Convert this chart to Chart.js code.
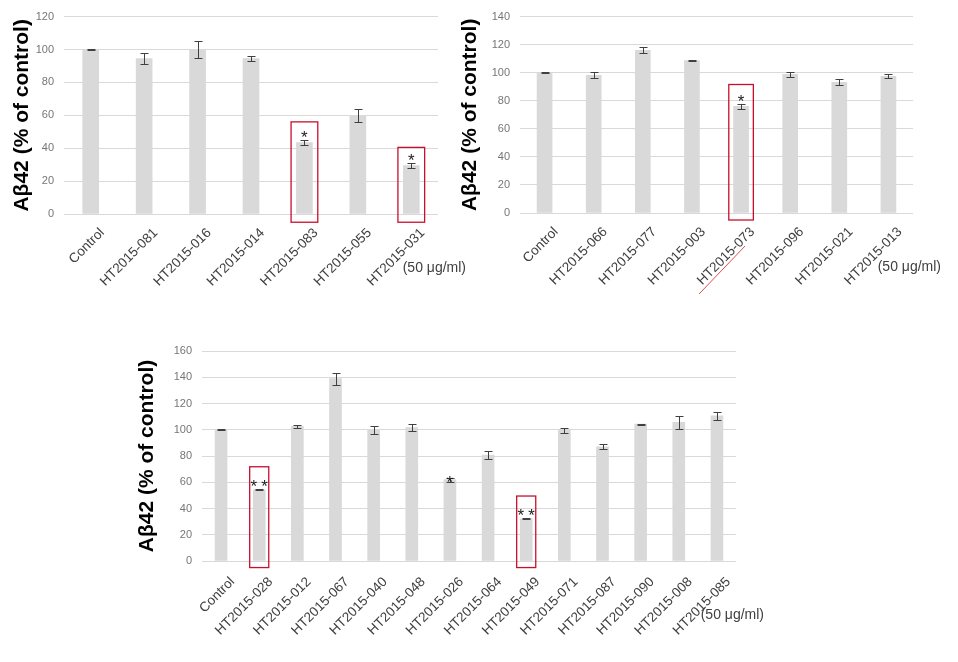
<!DOCTYPE html>
<html>
<head>
<meta charset="utf-8">
<script src="https://cdn.jsdelivr.net/npm/chart.js@4.4.0/dist/chart.umd.min.js"></script>
<style>
  body { margin: 0; background: #fff; width: 958px; height: 662px; position: relative; overflow: hidden; }
  canvas { position: absolute; }
</style>
</head>
<body>
<canvas id="c1" width="480" height="300" style="left:0;top:0"></canvas>
<canvas id="c2" width="510" height="300" style="left:448px;top:0"></canvas>
<canvas id="c3" width="833" height="332" style="left:125px;top:330px"></canvas>
<script>
// chart 1
const labels1 = ['Control', 'HT2015-081', 'HT2015-016', 'HT2015-014', 'HT2015-083', 'HT2015-055', 'HT2015-031'];
const means1 = [100, 94.5, 100, 94.5, 43.4, 60, 29.5];
const errs1 = [0.2, 3.3, 5.2, 1.5, 1.4, 3.9, 1.4];
const stars1 = ['', '', '', '', '*', '', '*'];
const boxIdx1 = [4, 6];
const boxTop1 = [56, 40.5];
const yMax1 = 120;

// chart 2
const labels2 = ['Control', 'HT2015-066', 'HT2015-077', 'HT2015-003', 'HT2015-073', 'HT2015-096', 'HT2015-021', 'HT2015-013'];
const means2 = [100, 98.2, 116, 108.6, 76, 98.8, 93.2, 97.5];
const errs2 = [0.2, 2.3, 2.1, 0.3, 1.7, 1.8, 2, 1.4];
const stars2 = ['', '', '', '', '*', '', '', ''];
const boxIdx2 = [4];
const boxTop2 = [91.6];
const yMax2 = 140;

// chart 3
const labels3 = ['Control', 'HT2015-028', 'HT2015-012', 'HT2015-067', 'HT2015-040', 'HT2015-048', 'HT2015-026',
  'HT2015-064', 'HT2015-049', 'HT2015-071', 'HT2015-087', 'HT2015-090', 'HT2015-008', 'HT2015-085'];
const means3 = [100, 54.3, 102.7, 139, 99.8, 101.7, 62, 80.7, 32.2, 99.7, 87, 104.3, 105.7, 110.6];
const errs3 = [0.2, 0.4, 1, 4.6, 3.2, 2.8, 1.5, 2.8, 0.3, 2, 2, 0.4, 5, 3.3];
const stars3 = ['', '**', '', '', '', '', '*', '', '**', '', '', '', '', ''];
const boxIdx3 = [1, 8];
const boxTop3 = [71.8, 49.5];
const yMax3 = 160;

const unitText = '(50 μg/ml)';
const yTitle = 'Aβ42 (% of control)';
const FONT = "'Liberation Sans', Arial, sans-serif";

function marks(means, errs, stars, boxIdx, boxTop, opts) {
  return {
    id: 'marks',
    afterDatasetsDraw(chart) {
      const ctx = chart.ctx, xs = chart.scales.x, ys = chart.scales.y, area = chart.chartArea;
      ctx.save();
      // error bars
      ctx.strokeStyle = '#404040';
      ctx.lineWidth = 1;
      means.forEach((m, i) => {
        const px = Math.round(xs.getPixelForValue(i)) + 0.5;
        const t = Math.round(ys.getPixelForValue(m + errs[i])) + 0.5;
        const b = Math.round(ys.getPixelForValue(m - errs[i])) + 0.5;
        ctx.beginPath();
        ctx.moveTo(px, t); ctx.lineTo(px, b);
        ctx.moveTo(px - 4, t); ctx.lineTo(px + 4, t);
        ctx.moveTo(px - 4, b); ctx.lineTo(px + 4, b);
        ctx.stroke();
      });
      // significance marks
      ctx.fillStyle = '#222';
      ctx.textAlign = 'center';
      ctx.textBaseline = 'alphabetic';
      stars.forEach((s, i) => {
        if (!s) return;
        ctx.font = '17px ' + FONT;
        ctx.letterSpacing = s.length > 1 ? '4px' : '0px';
        const mt = ctx.measureText(s);
        const gap = (opts.overlap || []).includes(i) ? -1 : 6;
        const cy = ys.getPixelForValue(means[i] + errs[i]) - gap;
        const base = cy - (mt.actualBoundingBoxDescent - mt.actualBoundingBoxAscent) / 2;
        const shift = s.length > 1 ? 2 : 0;
        ctx.fillText(s, xs.getPixelForValue(i) + shift, base);
      });
      ctx.letterSpacing = '0px';
      // highlight boxes
      ctx.strokeStyle = '#c8102e';
      ctx.lineWidth = 1.3;
      boxIdx.forEach((k, j) => {
        const l = xs.getPixelForValue(k - 0.25), r = xs.getPixelForValue(k + 0.25);
        const t = ys.getPixelForValue(boxTop[j]), b = ys.getPixelForValue(-5);
        ctx.strokeRect(l, t, r - l, b - t);
      });
      if (opts.slash !== undefined) {
        const px = xs.getPixelForValue(opts.slash);
        ctx.strokeStyle = '#e04a50';
        ctx.lineWidth = 1;
        ctx.beginPath();
        ctx.moveTo(px + 4, area.bottom + 33);
        ctx.lineTo(px - 42, area.bottom + 81);
        ctx.stroke();
      }
      // concentration note
      ctx.fillStyle = '#404040';
      ctx.font = '14px ' + FONT;
      ctx.textAlign = 'right';
      ctx.textBaseline = 'middle';
      ctx.fillText(unitText, area.right + 28, area.bottom + 54);
      ctx.restore();
    }
  };
}

function makeChart(id, labels, means, errs, stars, boxIdx, boxTop, yMax, lay, opts) {
  new Chart(document.getElementById(id), {
    type: 'bar',
    data: {
      labels: labels,
      datasets: [{
        data: means,
        backgroundColor: '#d9d9d9',
        barThickness: lay.bar,
      }]
    },
    options: {
      responsive: false,
      animation: false,
      layout: { padding: { left: 0, top: lay.top, right: lay.right, bottom: 0 } },
      plugins: { legend: { display: false }, tooltip: { enabled: false } },
      scales: {
        x: {
          grid: { display: false, drawTicks: false },
          border: { display: false },
          ticks: {
            color: '#404040', font: { family: FONT, size: 13.5 },
            minRotation: 45, maxRotation: 45, autoSkip: false,
            labelOffset: 11.5, padding: lay.lp
          },
          afterFit(s) { s.height = lay.xh; }
        },
        y: {
          min: 0, max: yMax,
          grid: { color: '#d9d9d9', drawTicks: false },
          border: { display: false },
          ticks: { stepSize: 20, color: '#767676', font: { family: FONT, size: 11 }, padding: 10 },
          title: {
            display: true, text: yTitle, color: '#000',
            font: { family: FONT, size: 21, weight: 'bold' },
            padding: { top: 10, bottom: 0 }
          },
          afterFit(s) { s.width = lay.yw; }
        }
      }
    },
    plugins: [marks(means, errs, stars, boxIdx, boxTop, opts || {})]
  });
}

makeChart('c1', labels1, means1, errs1, stars1, boxIdx1, boxTop1, yMax1,
  { top: 15, right: 42, yw: 64, xh: 86, bar: 16, lp: 11 });
makeChart('c2', labels2, means2, errs2, stars2, boxIdx2, boxTop2, yMax2,
  { top: 15, right: 45, yw: 72, xh: 87, bar: 15, lp: 11 }, { slash: 4 });
makeChart('c3', labels3, means3, errs3, stars3, boxIdx3, boxTop3, yMax3,
  { top: 21, right: 222, yw: 77, xh: 101, bar: 12, lp: 13 }, { overlap: [6] });
</script>
</body>
</html>
